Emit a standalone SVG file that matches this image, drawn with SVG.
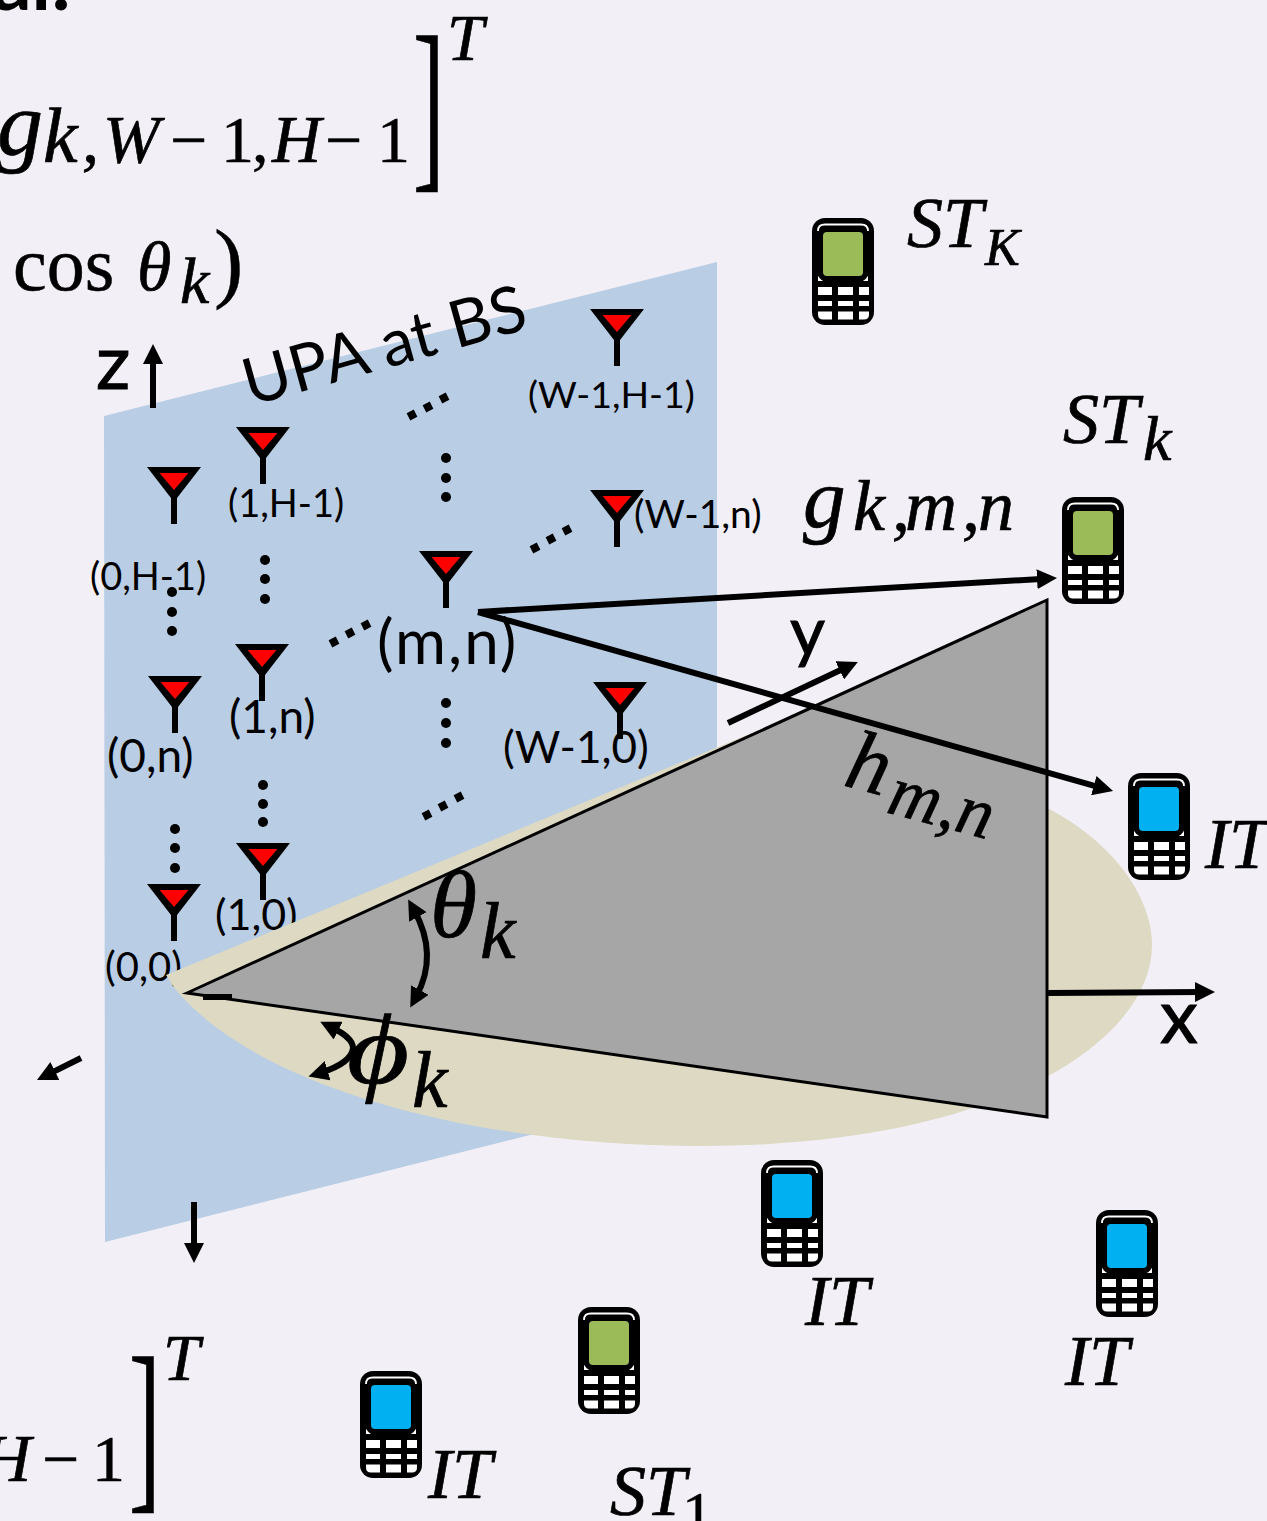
<svg xmlns="http://www.w3.org/2000/svg" width="1267" height="1521" viewBox="0 0 1267 1521">
<style>
.m{font-family:"Liberation Serif","DejaVu Serif",serif;font-style:italic;fill:#000;stroke:#000;stroke-width:.7}
.r{font-family:"Liberation Serif","DejaVu Serif",serif;fill:#000;stroke:#000;stroke-width:.5}
.l{font-family:Lato,"Open Sans",sans-serif;fill:#000}
.b{stroke:#000;stroke-width:1}
.ln{fill:none;stroke:#000;stroke-width:6}
.dot{fill:#000}
</style>
<defs>
<marker id="ah" markerUnits="userSpaceOnUse" markerWidth="22" markerHeight="20" refX="8" refY="10" orient="auto-start-reverse"><path d="M0,0 L20,10 L0,20 Z" fill="#000"/></marker>
<symbol id="phone" overflow="visible">
<rect width="62" height="107" rx="13" fill="#000"/>
<path d="M6,13 Q6,6.500 13,6.500 H49 Q56,6.500 56,13" fill="none" stroke="#fff" stroke-width="1.800"/>
<path d="M6,58 H56 V63 H6 Z" fill="#fff"/>
<rect x="5" y="8" width="52" height="56" rx="11" fill="#000"/>
<path d="M6,69 h14 v8 h-14z M26,69 h15 v8 h-15z M47,69 h10 v8 h-10z M6,83 h14 v5 h-14z M26,83 h15 v5 h-15z M47,83 h10 v5 h-10z M6,93.500 h14 v8 h-9 q-5,0 -5,-5z M26,93.500 h15 v8 h-15z M47,93.500 h10 v3 q0,5 -5,5 h-5z" fill="#fff"/>
</symbol>
<symbol id="ant" overflow="visible">
<path d="M-27,0 H27 L3,31 V57 H-3 V31 Z" fill="#000"/>
<path d="M-14.500,6 H14.500 L0,23 Z" fill="#f00"/>
</symbol>
</defs>
<rect width="1267" height="1521" fill="#f2f0f6"/>
<g id="plane"><polygon points="104,416 717,262 717,1088 105,1242" fill="#b9cde5"/></g>
<g id="labels-behind">
<text class="l" x="215" y="930" font-size="43">(1,0)</text>
<text class="l" x="105" y="981" font-size="40">(0,0)</text>
</g>
<g id="ground"><path d="M166,975 L805,711 L1047,808 C1110,840 1152,895 1152,945 C1152,1040 1000,1146 700,1146 C480,1146 260,1090 176,990 Z" fill="#ddd9c3"/></g>
<g id="sector"><polygon points="187,993 1047,600 1047,1117" fill="#a6a6a6" stroke="#000" stroke-width="3"/></g>

<g id="equation-top">
<text class="l" x="-8" y="10" font-size="78" font-weight="700">al:</text>
<text class="m" x="-3" y="155" font-size="92">g</text>
<text class="m" x="43" y="162" font-size="78">k</text>
<text class="m" x="82 103" y="162" font-size="68">,W</text>
<text class="r" x="170 221 252" y="162" font-size="66">−1,</text>
<text class="m" x="272" y="162" font-size="68">H</text>
<text class="r" x="325 377" y="162" font-size="66">−1</text>
<text class="r" transform="translate(412.700,167) scale(.47,.916)" font-size="205">]</text>
<text class="m" x="447" y="60" font-size="66">T</text>
<text class="r" x="13" y="290" font-size="76">cos</text>
<text class="m" x="137" y="290" font-size="70">θ</text>
<text class="m" x="180" y="303" font-size="66">k</text>
<text class="r" x="214" y="291" font-size="88">)</text>
</g>

<g id="labels">
<text class="l" transform="translate(250,406) rotate(-15.500)" font-size="65">UPA at BS</text>
<text class="l b" x="96" y="389" font-size="76">z</text>
<text class="l b" x="790" y="655" font-size="68">y</text>
<text class="l b" x="1160" y="1043" font-size="76">x</text>
<text class="l" x="377" y="664" font-size="62" letter-spacing="2">(m,n)</text>
<text class="l" x="528" y="408" font-size="37.500">(W-1,H-1)</text>
<text class="l" x="634" y="528" font-size="39">(W-1,n)</text>
<text class="l" x="228" y="517" font-size="38">(1,H-1)</text>
<text class="l" x="90" y="590" font-size="38">(0,H-1)</text>
<text class="l" x="229" y="733" font-size="46">(1,n)</text>
<text class="l" x="107" y="772" font-size="46">(0,n)</text>
<text class="l" x="503" y="763" font-size="44">(W-1,0)</text>
<text class="m" x="803" y="527" font-size="85">g</text>
<text class="m" x="853 892 905 962 978" y="530" font-size="72">k,m,n</text>
<text class="m" transform="translate(842,785) rotate(15)" font-size="85">h</text>
<text class="m" transform="translate(885,812) rotate(15)" font-size="72">m,n</text>
<text class="m" x="430" y="937" font-size="96">θ</text>
<text class="m" x="480" y="958" font-size="80">k</text>
<text class="m" transform="translate(347,1083) scale(1.250,1.030)" font-size="96" stroke-width="1.200">ϕ</text>
<text class="m" x="412" y="1107" font-size="80">k</text>
</g>

<g id="connectors">
<line class="ln" x1="153" y1="408" x2="153" y2="356" marker-end="url(#ah)"/>
<line class="ln" x1="728" y1="723" x2="847" y2="667" marker-end="url(#ah)"/>
<line class="ln" x1="1047" y1="993" x2="1203" y2="992" marker-end="url(#ah)"/>
<line class="ln" x1="81" y1="1058" x2="47.700" y2="1074.600" marker-end="url(#ah)"/>
<line class="ln" x1="194" y1="1202" x2="194" y2="1251" marker-end="url(#ah)"/>
<line class="ln" x1="203" y1="997" x2="232" y2="997"/>
<line class="ln" x1="478" y1="612" x2="1045" y2="578.700" marker-end="url(#ah)"/>
<line class="ln" x1="478" y1="612" x2="1101.500" y2="787.800" marker-end="url(#ah)"/>
<path class="ln" d="M414,910 Q439,955 416,997" marker-start="url(#ah)" marker-end="url(#ah)"/>
<path class="ln" d="M331,1027 C345,1034 353,1040 353,1048 C352,1058 340,1067 320,1073" marker-start="url(#ah)" marker-end="url(#ah)"/>
</g>

<g id="dots">
<circle class="dot" cx="172" cy="592" r="5"/><circle class="dot" cx="172" cy="612" r="5"/><circle class="dot" cx="172" cy="631" r="5"/>
<circle class="dot" cx="265" cy="560" r="5"/><circle class="dot" cx="265" cy="579" r="5"/><circle class="dot" cx="265" cy="599" r="5"/>
<circle class="dot" cx="446" cy="458" r="5"/><circle class="dot" cx="446" cy="478" r="5"/><circle class="dot" cx="446" cy="497" r="5"/>
<circle class="dot" cx="446" cy="703" r="5"/><circle class="dot" cx="446" cy="723" r="5"/><circle class="dot" cx="446" cy="743" r="5"/>
<circle class="dot" cx="263" cy="785" r="5"/><circle class="dot" cx="263" cy="804" r="5"/><circle class="dot" cx="263" cy="822" r="5"/>
<circle class="dot" cx="175" cy="829" r="5"/><circle class="dot" cx="175" cy="848" r="5"/><circle class="dot" cx="175" cy="868" r="5"/>
<g fill="#000">
<rect x="-4" y="-4" width="8" height="8" transform="translate(334,642) rotate(-27)"/><rect x="-4" y="-4" width="8" height="8" transform="translate(350,633) rotate(-27)"/><rect x="-4" y="-4" width="8" height="8" transform="translate(366,625) rotate(-27)"/>
<rect x="-4" y="-4" width="8" height="8" transform="translate(412,415) rotate(-27)"/><rect x="-4" y="-4" width="8" height="8" transform="translate(428,407) rotate(-27)"/><rect x="-4" y="-4" width="8" height="8" transform="translate(444,398) rotate(-27)"/>
<rect x="-4" y="-4" width="8" height="8" transform="translate(535,548) rotate(-27)"/><rect x="-4" y="-4" width="8" height="8" transform="translate(551,539) rotate(-27)"/><rect x="-4" y="-4" width="8" height="8" transform="translate(567,530) rotate(-27)"/>
<rect x="-4" y="-4" width="8" height="8" transform="translate(427,815) rotate(-27)"/><rect x="-4" y="-4" width="8" height="8" transform="translate(443,806) rotate(-27)"/><rect x="-4" y="-4" width="8" height="8" transform="translate(459,797) rotate(-27)"/>
</g>
</g>

<g id="ant-0-H"><use href="#ant" x="174" y="467"/></g>
<g id="ant-1-H"><use href="#ant" x="263" y="427"/></g>
<g id="ant-1-n"><use href="#ant" x="262" y="644"/></g>
<g id="ant-0-n"><use href="#ant" x="175" y="676"/></g>
<g id="ant-m-n"><use href="#ant" x="446" y="551"/></g>
<g id="ant-W-H"><use href="#ant" x="617" y="309"/></g>
<g id="ant-W-n"><use href="#ant" x="617" y="490"/></g>
<g id="ant-W-0"><use href="#ant" x="620" y="682"/></g>
<g id="ant-1-0"><use href="#ant" x="263" y="843"/></g>
<g id="ant-0-0"><use href="#ant" x="174" y="884"/></g>

<g id="phone-STK"><use href="#phone" x="812" y="218"/><rect x="823" y="232" width="40" height="44" rx="4" fill="#9bbb59"/>
<text class="m" x="907" y="247" font-size="72">ST</text><text class="m" x="985" y="265" font-size="52">K</text></g>
<g id="phone-STk"><use href="#phone" x="1062" y="497"/><rect x="1073" y="511" width="40" height="44" rx="4" fill="#9bbb59"/>
<text class="m" x="1063" y="443" font-size="72">ST</text><text class="m" x="1143" y="460" font-size="64">k</text></g>
<g id="phone-IT1"><use href="#phone" x="1128" y="773"/><rect x="1139" y="787" width="40" height="44" rx="4" fill="#00b0f0"/>
<text class="m" x="1205" y="868" font-size="72">IT</text></g>
<g id="phone-IT2"><use href="#phone" x="761" y="1160"/><rect x="772" y="1174" width="40" height="44" rx="4" fill="#00b0f0"/>
<text class="m" x="805" y="1325" font-size="72">IT</text></g>
<g id="phone-IT3"><use href="#phone" x="1096" y="1210"/><rect x="1107" y="1224" width="40" height="44" rx="4" fill="#00b0f0"/>
<text class="m" x="1065" y="1385" font-size="72">IT</text></g>
<g id="phone-ST1"><use href="#phone" x="578" y="1307"/><rect x="589" y="1321" width="40" height="44" rx="4" fill="#9bbb59"/>
<text class="m" x="610" y="1515" font-size="72">ST</text><text class="r" x="682" y="1534" font-size="62">1</text></g>
<g id="phone-IT4"><use href="#phone" x="360" y="1371"/><rect x="371" y="1385" width="40" height="44" rx="4" fill="#00b0f0"/>
<text class="m" x="428" y="1498" font-size="72">IT</text></g>

<g id="equation-bottom">
<text class="m" x="-18" y="1481" font-size="68">H</text>
<text class="r" x="42 92" y="1481" font-size="66">−1</text>
<text class="r" transform="translate(128.700,1488) scale(.47,.916)" font-size="205">]</text>
<text class="m" x="163" y="1380" font-size="66">T</text>
</g>
</svg>
